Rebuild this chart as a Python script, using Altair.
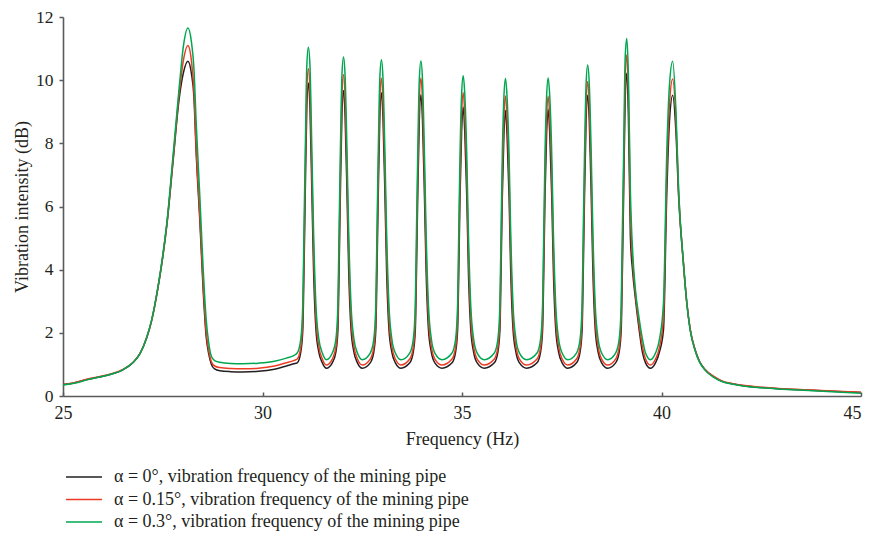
import altair as alt
import pandas as pd

freq = [
    25.0, 25.3, 25.6, 25.9, 26.2, 26.5, 26.75, 26.93, 27.1, 27.22, 27.38, 27.5, 27.61, 27.76, 27.91,
    28.02, 28.13, 28.22, 28.28, 28.34, 28.43, 28.51, 28.59, 28.65, 28.72, 28.8, 28.93, 29.2, 29.5,
    29.9, 30.3, 30.6, 30.78,
    30.87, 30.96, 31.01, 31.04, 31.07, 31.11, 31.15, 31.19, 31.24, 31.28, 31.34, 31.41, 31.50, 31.60,
    31.75, 31.84, 31.89, 31.92, 31.95, 31.99, 32.03, 32.07, 32.12, 32.16, 32.22, 32.29, 32.38, 32.50,
    32.70, 32.79, 32.84, 32.87, 32.90, 32.94, 32.98, 33.02, 33.07, 33.11, 33.17, 33.24, 33.33, 33.47,
    33.69, 33.78, 33.83, 33.86, 33.89, 33.93, 33.97, 34.01, 34.06, 34.10, 34.16, 34.23, 34.32, 34.50,
    34.75, 34.84, 34.89, 34.92, 34.95, 34.99, 35.03, 35.07, 35.12, 35.16, 35.22, 35.29, 35.38, 35.56,
    35.81, 35.90, 35.95, 35.98, 36.01, 36.05, 36.09, 36.13, 36.18, 36.22, 36.28, 36.35, 36.44, 36.62,
    36.88, 36.97, 37.02, 37.05, 37.08, 37.12, 37.16, 37.20, 37.25, 37.29, 37.35, 37.42, 37.51, 37.65,
    37.87, 37.96, 38.01, 38.04, 38.07, 38.11, 38.15, 38.19, 38.24, 38.28, 38.34, 38.41, 38.50, 38.65,
    38.85, 38.94, 38.99, 39.02, 39.05, 39.09, 39.13, 39.17, 39.22, 39.28, 39.34, 39.44, 39.52, 39.60, 39.72,
    39.85, 39.95, 40.05, 40.13, 40.20, 40.28, 40.36, 40.43, 40.55, 40.63, 40.72, 40.84, 40.95, 41.09,
    41.3, 41.51, 41.8, 42.09, 42.5, 42.93, 43.76, 44.4, 45.0,
]

black = [
    0.36, 0.42, 0.52, 0.60, 0.69, 0.83, 1.05, 1.34, 1.85, 2.38, 3.43, 4.40, 5.50, 7.45, 9.40,
    10.25, 10.60, 10.20, 9.50, 7.64, 5.54, 3.43, 1.86, 1.35, 1.00, 0.86, 0.80, 0.77, 0.76,
    0.78, 0.85, 0.95, 1.02,
    1.05, 1.40, 2.10, 4.00, 6.30, 9.11, 9.91, 9.11, 6.30, 4.00, 2.10, 1.40, 1.05, 0.88,
    1.05, 1.40, 2.10, 4.00, 6.30, 8.87, 9.67, 8.87, 6.30, 4.00, 2.10, 1.40, 1.05, 0.88,
    1.05, 1.40, 2.10, 4.00, 6.30, 8.80, 9.60, 8.80, 6.30, 4.00, 2.10, 1.40, 1.05, 0.88,
    1.05, 1.40, 2.10, 4.00, 6.30, 8.74, 9.54, 8.74, 6.30, 4.00, 2.10, 1.40, 1.05, 0.88,
    1.05, 1.40, 2.10, 4.00, 6.30, 8.35, 9.15, 8.35, 6.30, 4.00, 2.10, 1.40, 1.05, 0.88,
    1.05, 1.40, 2.10, 4.00, 6.30, 8.24, 9.04, 8.24, 6.30, 4.00, 2.10, 1.40, 1.05, 0.88,
    1.05, 1.40, 2.10, 4.00, 6.30, 8.28, 9.08, 8.28, 6.30, 4.00, 2.10, 1.40, 1.05, 0.88,
    1.05, 1.40, 2.10, 4.00, 6.30, 8.72, 9.52, 8.72, 6.30, 4.00, 2.10, 1.40, 1.05, 0.88,
    1.05, 1.40, 2.10, 4.00, 6.30, 9.42, 10.22, 8.90, 5.05, 3.90, 3.15, 2.10, 1.40, 1.05, 0.88,
    1.05, 1.40, 2.10, 6.30, 8.70, 9.52, 8.40, 6.30, 4.20, 3.00, 2.10, 1.47, 1.10, 0.84,
    0.62, 0.47, 0.38, 0.32, 0.27, 0.23, 0.18, 0.14, 0.11,
]

red = [
    0.37, 0.43, 0.53, 0.61, 0.70, 0.84, 1.06, 1.35, 1.86, 2.38, 3.43, 4.42, 5.52, 7.52, 9.55,
    10.65, 11.10, 10.60, 9.70, 7.80, 5.70, 3.60, 2.00, 1.45, 1.08, 0.95, 0.90, 0.87, 0.86,
    0.88, 0.95, 1.05, 1.12,
    1.17, 1.55, 2.45, 4.60, 6.90, 9.66, 10.36, 9.66, 6.90, 4.60, 2.45, 1.58, 1.17, 0.98,
    1.17, 1.55, 2.45, 4.60, 6.90, 9.47, 10.17, 9.47, 6.90, 4.60, 2.45, 1.58, 1.17, 0.98,
    1.17, 1.55, 2.45, 4.60, 6.90, 9.36, 10.06, 9.36, 6.90, 4.60, 2.45, 1.58, 1.17, 0.98,
    1.17, 1.55, 2.45, 4.60, 6.90, 9.36, 10.06, 9.36, 6.90, 4.60, 2.45, 1.58, 1.17, 0.98,
    1.17, 1.55, 2.45, 4.60, 6.90, 8.90, 9.60, 8.90, 6.90, 4.60, 2.45, 1.58, 1.17, 0.98,
    1.17, 1.55, 2.45, 4.60, 6.90, 8.80, 9.50, 8.80, 6.90, 4.60, 2.45, 1.58, 1.17, 0.98,
    1.17, 1.55, 2.45, 4.60, 6.90, 8.79, 9.49, 8.79, 6.90, 4.60, 2.45, 1.58, 1.17, 0.98,
    1.17, 1.55, 2.45, 4.60, 6.90, 9.26, 9.96, 9.26, 6.90, 4.60, 2.45, 1.58, 1.17, 0.98,
    1.17, 1.55, 2.45, 4.60, 6.90, 10.10, 10.80, 9.60, 5.80, 4.20, 3.30, 2.25, 1.58, 1.17, 0.98,
    1.17, 1.55, 2.50, 6.90, 9.25, 10.04, 8.80, 6.40, 4.20, 3.00, 2.10, 1.47, 1.10, 0.84,
    0.63, 0.48, 0.39, 0.33, 0.28, 0.24, 0.19, 0.15, 0.12,
]

green = [
    0.35, 0.41, 0.51, 0.60, 0.69, 0.83, 1.05, 1.34, 1.86, 2.40, 3.45, 4.45, 5.56, 7.64, 9.74,
    11.10, 11.65, 11.20, 10.40, 8.60, 6.30, 4.10, 2.40, 1.70, 1.25, 1.12, 1.07, 1.03, 1.02,
    1.04, 1.10, 1.20, 1.28,
    1.36, 1.80, 2.90, 5.30, 7.60, 10.44, 11.04, 10.44, 7.60, 5.20, 2.85, 1.82, 1.36, 1.15,
    1.36, 1.80, 2.90, 5.30, 7.60, 10.13, 10.73, 10.13, 7.60, 5.20, 2.85, 1.82, 1.36, 1.15,
    1.36, 1.80, 2.90, 5.30, 7.60, 10.05, 10.65, 10.05, 7.60, 5.20, 2.85, 1.82, 1.36, 1.15,
    1.36, 1.80, 2.90, 5.30, 7.60, 10.01, 10.61, 10.01, 7.60, 5.20, 2.85, 1.82, 1.36, 1.15,
    1.36, 1.80, 2.90, 5.30, 7.60, 9.54, 10.14, 9.54, 7.60, 5.20, 2.85, 1.82, 1.36, 1.15,
    1.36, 1.80, 2.90, 5.30, 7.60, 9.45, 10.05, 9.45, 7.60, 5.20, 2.85, 1.82, 1.36, 1.15,
    1.36, 1.80, 2.90, 5.30, 7.60, 9.47, 10.07, 9.47, 7.60, 5.20, 2.85, 1.82, 1.36, 1.15,
    1.36, 1.80, 2.90, 5.30, 7.60, 9.88, 10.48, 9.88, 7.60, 5.20, 2.85, 1.82, 1.36, 1.15,
    1.36, 1.80, 2.90, 5.30, 7.60, 10.72, 11.32, 10.20, 6.50, 4.50, 3.45, 2.45, 1.82, 1.36, 1.15,
    1.36, 1.80, 2.95, 7.60, 9.85, 10.60, 9.10, 6.50, 4.20, 3.00, 2.08, 1.45, 1.08, 0.82,
    0.60, 0.46, 0.37, 0.31, 0.26, 0.22, 0.17, 0.13, 0.09,
]

series_labels = [
    "α = 0°, vibration frequency of the mining pipe",
    "α = 0.15°, vibration frequency of the mining pipe",
    "α = 0.3°, vibration frequency of the mining pipe",
]
series_colors = ["#231f20", "#ee3b24", "#00a650"]
x_ticks = [25, 30, 35, 40, 45]
y_ticks = [0, 2, 4, 6, 8, 10, 12]

rows = []
for lab, vals in zip(series_labels, [black, red, green]):
    for f, v in zip(freq, vals):
        rows.append({"Frequency": f, "Intensity": v, "Series": lab})
df = pd.DataFrame(rows)

FONT = "Liberation Serif"
TEXT = "#231f20"
AXIS = "#5a5a5a"

chart = (
    alt.Chart(df)
    .mark_line(strokeWidth=1.5, interpolate="monotone")
    .encode(
        x=alt.X(
            "Frequency:Q",
            scale=alt.Scale(domain=[25, 45], nice=False, zero=False),
            axis=alt.Axis(
                values=x_ticks,
                title="Frequency (Hz)",
                titlePadding=8,
                tickSize=alt.ExprRef("-4"),
                labelPadding=12,
                labelFontSize=18,
                labelAlign=alt.ExprRef("datum.value == 45 ? 'right' : 'center'"),
            ),
        ),
        y=alt.Y(
            "Intensity:Q",
            scale=alt.Scale(domain=[0, 12], nice=False),
            axis=alt.Axis(
                values=y_ticks,
                title="Vibration intensity (dB)",
                titlePadding=4,
                tickSize=4,
                labelPadding=6,
                labelFontSize=17.5,
            ),
        ),
        color=alt.Color(
            "Series:N",
            scale=alt.Scale(domain=series_labels, range=series_colors),
            legend=alt.Legend(
                title=None,
                orient="none",
                direction="vertical",
                legendX=0,
                legendY=451,
                symbolType="M-1,0H5",
                symbolSize=144,
                symbolStrokeWidth=1.5,
                labelOffset=33,
                rowPadding=4.5,
                padding=0,
                labelFont=FONT,
                labelFontSize=18,
                labelColor=TEXT,
                labelLimit=0,
            ),
        ),
    )
    .properties(
        width=798,
        height=379,
        autosize="none",
        padding={"left": 55, "top": 9, "right": 2, "bottom": 140},
    )
    .configure_view(stroke=None)
    .configure_axis(
        grid=False,
        domainColor=AXIS,
        domainWidth=1.6,
        tickColor=AXIS,
        tickWidth=1.5,
        labelFont=FONT,
        labelColor=TEXT,
        titleFont=FONT,
        titleFontSize=18,
        titleFontWeight="normal",
        titleColor=TEXT,
    )
)

chart.save("out.html", embed_options={"renderer": "svg", "actions": False})
